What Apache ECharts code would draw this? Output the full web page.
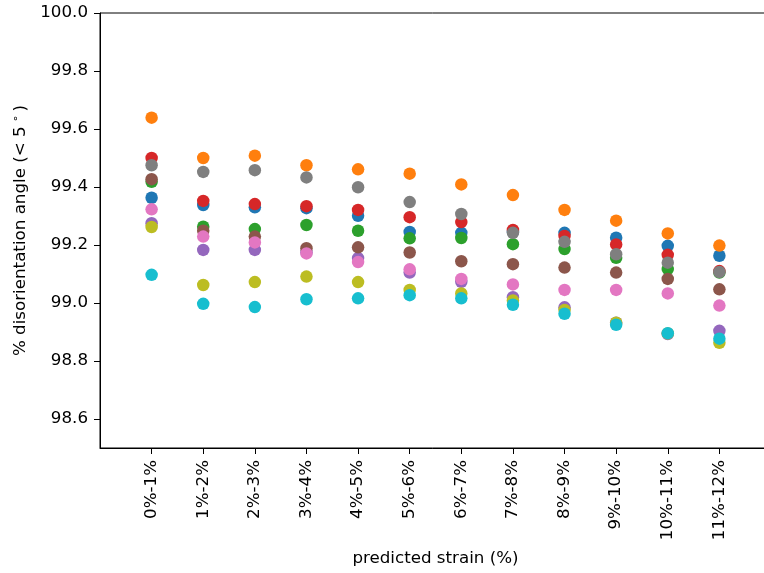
<!DOCTYPE html>
<html>
<head>
<meta charset="utf-8">
<script src="https://cdn.jsdelivr.net/npm/echarts@6/dist/echarts.min.js"></script>
<style>html,body{margin:0;padding:0;background:#fff}#c{width:764px;height:573px}</style>
</head>
<body>
<div id="c"></div>
<script>
const categories = ['0%-1%','1%-2%','2%-3%','3%-4%','4%-5%','5%-6%','6%-7%','7%-8%','8%-9%','9%-10%','10%-11%','11%-12%'];
const yTicks = [98.6, 98.8, 99.0, 99.2, 99.4, 99.6, 99.8, 100.0];
const colors = ['#1f77b4','#ff7f0e','#2ca02c','#d62728','#9467bd','#8c564b','#e377c2','#7f7f7f','#bcbd22','#17becf'];

const s0 = [99.363, 99.338, 99.330, 99.327, 99.301, 99.245, 99.242, 99.245, 99.242, 99.225, 99.197, 99.163];
const s1 = [99.639, 99.500, 99.508, 99.475, 99.461, 99.446, 99.409, 99.372, 99.321, 99.284, 99.240, 99.198];
const s2 = [99.418, 99.263, 99.255, 99.269, 99.249, 99.223, 99.224, 99.203, 99.186, 99.156, 99.117, 99.105];
const s3 = [99.500, 99.352, 99.341, 99.334, 99.321, 99.296, 99.279, 99.252, 99.231, 99.202, 99.166, 99.110];
const s4 = [99.275, 99.183, 99.183, 99.175, 99.155, 99.105, 99.073, 99.020, 98.985, 98.932, 98.893, 98.904];
const s5 = [99.427, 99.249, 99.229, 99.189, 99.192, 99.174, 99.144, 99.134, 99.122, 99.105, 99.083, 99.047];
const s6 = [99.323, 99.229, 99.209, 99.171, 99.141, 99.116, 99.083, 99.064, 99.045, 99.045, 99.033, 98.991];
const s7 = [99.475, 99.452, 99.458, 99.433, 99.399, 99.348, 99.307, 99.242, 99.211, 99.168, 99.139, 99.107];
const s8 = [99.262, 99.062, 99.072, 99.091, 99.072, 99.045, 99.033, 99.009, 98.976, 98.932, 98.895, 98.863];
const s9 = [99.097, 98.997, 98.986, 99.013, 99.016, 99.027, 99.016, 98.994, 98.963, 98.925, 98.896, 98.877];
const allSeries = [s0, s1, s2, s3, s4, s5, s6, s7, s8, s9];

const axisCats = [''].concat(categories, ['']);
const font = 'DejaVu Sans';
const fs = 16.7;

const chart = echarts.init(document.getElementById('c'), null, {renderer: 'canvas'});
chart.setOption({
  animation: false,
  backgroundColor: '#fff',
  grid: {left: 100, top: 13, bottom: 125, right: -7, outerBoundsMode: 'none', containLabel: false, show: true, borderColor: '#000', borderWidth: 1, backgroundColor: 'transparent'},
  xAxis: {
    type: 'category',
    data: axisCats,
    boundaryGap: false,
    axisLine: {lineStyle: {color: '#000', width: 1}},
    axisTick: {show: true, length: 6, lineStyle: {color: '#000'}, interval: function (i, v) { return v !== ''; }},
    axisLabel: {rotate: 90, margin: 12, color: '#000', fontFamily: font, fontSize: fs, interval: 0},
    splitLine: {show: false},
    name: 'predicted strain (%)',
    nameLocation: 'middle',
    nameGap: 102,
    nameTextStyle: {color: '#000', fontFamily: font, fontSize: fs}
  },
  yAxis: {
    type: 'value',
    min: 98.5,
    max: 100.0,
    axisLine: {show: true, lineStyle: {color: '#000', width: 1}},
    axisTick: {show: true, length: 6, inside: false, lineStyle: {color: '#000'}, customValues: yTicks},
    axisLabel: {margin: 12, color: '#000', fontFamily: font, fontSize: fs, customValues: yTicks, formatter: v => Number(v).toFixed(1)},
    splitLine: {show: false},
    name: '% disorientation angle (< 5{s|∘})',
    nameLocation: 'middle',
    nameGap: 70,
    nameTextStyle: {color: '#000', fontFamily: font, fontSize: fs, rich: {s: {fontFamily: font, fontSize: 11, verticalAlign: 'top', padding: [0, 4, 8, 4]}}}
  },
  series: allSeries.map((vals, k) => ({
    type: 'scatter',
    symbol: 'circle',
    symbolSize: 12.5,
    itemStyle: {color: colors[k], opacity: 1},
    data: categories.map((c, i) => [c, vals[i]])
  }))
});
</script>
</body>
</html>
